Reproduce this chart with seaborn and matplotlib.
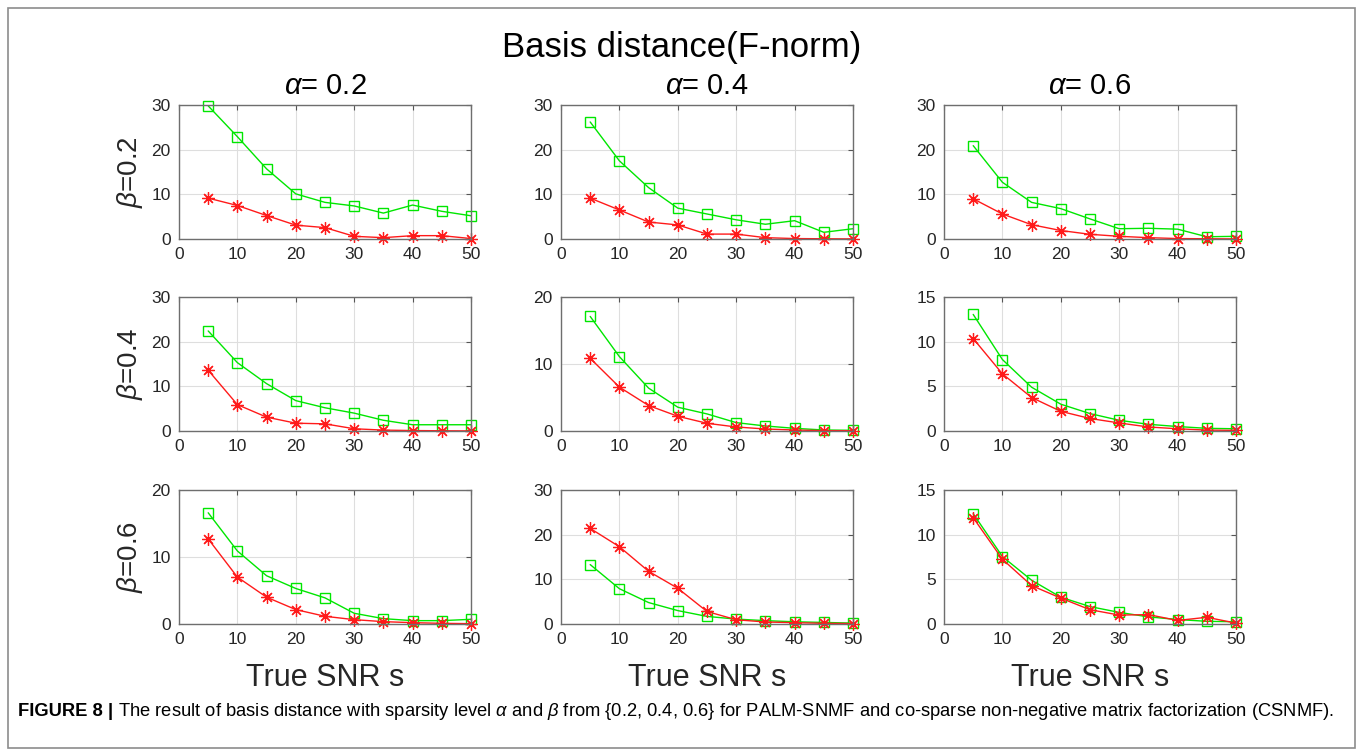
import matplotlib
matplotlib.use("Agg")
import matplotlib.pyplot as plt
from matplotlib.patches import Rectangle
import numpy as np
import pandas as pd
import seaborn as sns

# ---------------- data ----------------
snr = [5, 10, 15, 20, 25, 30, 35, 40, 45, 50]
alphas = ["0.2", "0.4", "0.6"]
betas = ["0.2", "0.4", "0.6"]

# PALM-SNMF (green squares), rows = beta, cols = alpha
palm_b02_a02 = [29.8, 22.9, 15.7, 10.1, 8.2, 7.4, 5.8, 7.6, 6.2, 5.2]
palm_b02_a04 = [26.2, 17.5, 11.5, 6.9, 5.6, 4.3, 3.3, 4.1, 1.5, 2.3]
palm_b02_a06 = [20.9, 12.7, 8.2, 6.8, 4.5, 2.3, 2.4, 2.2, 0.5, 0.6]
palm_b04_a02 = [22.4, 15.3, 10.6, 6.8, 5.2, 4.0, 2.4, 1.4, 1.4, 1.4]
palm_b04_a04 = [17.1, 11.1, 6.4, 3.55, 2.55, 1.25, 0.75, 0.4, 0.15, 0.1]
palm_b04_a06 = [13.05, 8.0, 4.9, 3.0, 1.95, 1.2, 0.75, 0.5, 0.3, 0.25]
palm_b06_a02 = [16.6, 10.9, 7.2, 5.3, 3.9, 1.6, 0.8, 0.5, 0.5, 0.7]
palm_b06_a04 = [13.3, 7.9, 4.8, 3.0, 1.7, 1.1, 0.75, 0.5, 0.35, 0.2]
palm_b06_a06 = [12.35, 7.55, 4.9, 3.0, 1.95, 1.3, 0.8, 0.5, 0.3, 0.25]

# CSNMF (red asterisks)
csnmf_b02_a02 = [9.15, 7.5, 5.25, 3.1, 2.55, 0.6, 0.3, 0.75, 0.75, 0.1]
csnmf_b02_a04 = [9.15, 6.5, 3.8, 3.15, 1.1, 1.1, 0.3, 0.1, 0.05, 0.02]
csnmf_b02_a06 = [9.0, 5.6, 3.2, 1.9, 1.05, 0.6, 0.3, 0.1, 0.05, 0.02]
csnmf_b04_a02 = [13.6, 5.9, 3.1, 1.75, 1.6, 0.5, 0.2, 0.1, 0.05, 0.02]
csnmf_b04_a04 = [10.85, 6.55, 3.8, 2.2, 1.15, 0.6, 0.3, 0.15, 0.05, 0.05]
csnmf_b04_a06 = [10.35, 6.4, 3.75, 2.2, 1.4, 0.9, 0.45, 0.25, 0.1, 0.07]
csnmf_b06_a02 = [12.7, 7.0, 4.0, 2.15, 1.15, 0.65, 0.35, 0.2, 0.1, 0.05]
csnmf_b06_a04 = [21.4, 17.3, 11.8, 8.0, 2.8, 0.95, 0.45, 0.3, 0.15, 0.1]
csnmf_b06_a06 = [11.9, 7.25, 4.3, 2.9, 1.6, 1.0, 1.05, 0.4, 0.75, 0.1]

palm_rows = [[palm_b02_a02, palm_b02_a04, palm_b02_a06],
             [palm_b04_a02, palm_b04_a04, palm_b04_a06],
             [palm_b06_a02, palm_b06_a04, palm_b06_a06]]
csnmf_rows = [[csnmf_b02_a02, csnmf_b02_a04, csnmf_b02_a06],
              [csnmf_b04_a02, csnmf_b04_a04, csnmf_b04_a06],
              [csnmf_b06_a02, csnmf_b06_a04, csnmf_b06_a06]]

# y-axis range and tick step per panel
y_max = [[30, 30, 30], [30, 20, 15], [20, 30, 15]]
y_step = [[10, 10, 10], [10, 10, 5], [10, 10, 5]]

# ---------------- style ----------------
sns.set_theme(style="white")
plt.rcParams["font.family"] = ["Liberation Sans", "DejaVu Sans"]
plt.rcParams["mathtext.fontset"] = "custom"
plt.rcParams["mathtext.rm"] = "Liberation Sans"
plt.rcParams["mathtext.it"] = "Liberation Sans:italic"

W, H = 1363, 756
fig = plt.figure(figsize=(W / 100, H / 100), dpi=100)
fig.patch.set_facecolor("white")


def px_axes(left, top, width, height):
    return fig.add_axes([left / W, 1 - (top + height) / H, width / W, height / H])


col_left = [179, 561, 944]
ax_w = 292
row_top = [105, 297, 490]
ax_h = 134

GREEN = "#00e600"
RED = "#ff1a1a"
TEXT = "#262626"
asterisk = (8, 2, 0)

for r in range(3):
    for c in range(3):
        ax = px_axes(col_left[c], row_top[r], ax_w, ax_h)
        df = pd.DataFrame({
            "snr": snr * 2,
            "dist": palm_rows[r][c] + csnmf_rows[r][c],
            "method": ["PALM-SNMF"] * len(snr) + ["CSNMF"] * len(snr),
        })
        sns.lineplot(data=df[df["method"] == "PALM-SNMF"], x="snr", y="dist",
                     color=GREEN, marker="s", markersize=7.5,
                     markerfacecolor="none", markeredgecolor=GREEN,
                     markeredgewidth=1.0, linewidth=1.0, clip_on=False,
                     legend=False, ax=ax)
        sns.lineplot(data=df[df["method"] == "CSNMF"], x="snr", y="dist",
                     color=RED, marker=asterisk, markersize=9,
                     markeredgecolor=RED, markeredgewidth=0.9,
                     linewidth=1.0, clip_on=False, legend=False, ax=ax)

        ax.set_xlim(0, 50)
        ax.set_xticks(np.arange(0, 51, 10))
        ax.set_ylim(0, y_max[r][c])
        ax.set_yticks(np.arange(0, y_max[r][c] + 0.1, y_step[r][c]))
        ax.set_xlabel("")
        ax.set_ylabel("")
        ax.grid(True, color="#dedede", linewidth=0.8)
        ax.set_axisbelow(True)
        for sp in ax.spines.values():
            sp.set_color("#6e6e6e")
            sp.set_linewidth(1.0)
        ax.tick_params(direction="in", length=3.5, width=0.8, colors="#555555",
                       top=True, right=True, labelsize=12.5,
                       labelcolor=TEXT, pad=6)

# column titles
for c in range(3):
    fig.text((col_left[c] + ax_w / 2) / W, 1 - 94 / H, r"$\alpha$= " + alphas[c],
             ha="center", va="baseline", fontsize=21, color="black")

# row labels
for r in range(3):
    fig.text(130 / W, 1 - (row_top[r] + ax_h / 2) / H, r"$\beta$=" + betas[r],
             ha="center", va="center", rotation=90, fontsize=20, color=TEXT)

# x labels under the bottom row
for c in range(3):
    fig.text((col_left[c] + ax_w / 2) / W, 1 - 686 / H, "True SNR s",
             ha="center", va="baseline", fontsize=22, color=TEXT)

# overall title
fig.text(682 / W, 1 - 57 / H, "Basis distance(F-norm)", ha="center",
         va="baseline", fontsize=25, color="black")

# frame around the figure panel
fig.patches.append(Rectangle((8 / W, 1 - 748 / H), (1355 - 8) / W, (748 - 8) / H,
                             transform=fig.transFigure, fill=False,
                             edgecolor="#8c8c8c", linewidth=1.2))

# caption
cap_x0, cap_x1, cap_base = 18, 1330, 716
bold_txt = fig.text(cap_x0 / W, 1 - cap_base / H, "FIGURE 8 |", fontweight="bold",
                    ha="left", va="baseline", fontsize=12, color="black")
rest_txt = fig.text(0, 1 - cap_base / H,
                    r" The result of basis distance with sparsity level $\alpha$ and $\beta$ "
                    r"from {0.2, 0.4, 0.6} for PALM-SNMF and co-sparse non-negative matrix "
                    r"factorization (CSNMF).",
                    ha="left", va="baseline", fontsize=12, color="black")
fig.canvas.draw()
rend = fig.canvas.get_renderer()
wb = bold_txt.get_window_extent(rend).width
wr = rest_txt.get_window_extent(rend).width
scale = (cap_x1 - cap_x0) / (wb + wr)
bold_txt.set_fontsize(12 * scale)
rest_txt.set_fontsize(12 * scale)
fig.canvas.draw()
wb = bold_txt.get_window_extent(rend).width
rest_txt.set_x((cap_x0 + wb) / W)

fig.savefig("out.png", dpi=100)
